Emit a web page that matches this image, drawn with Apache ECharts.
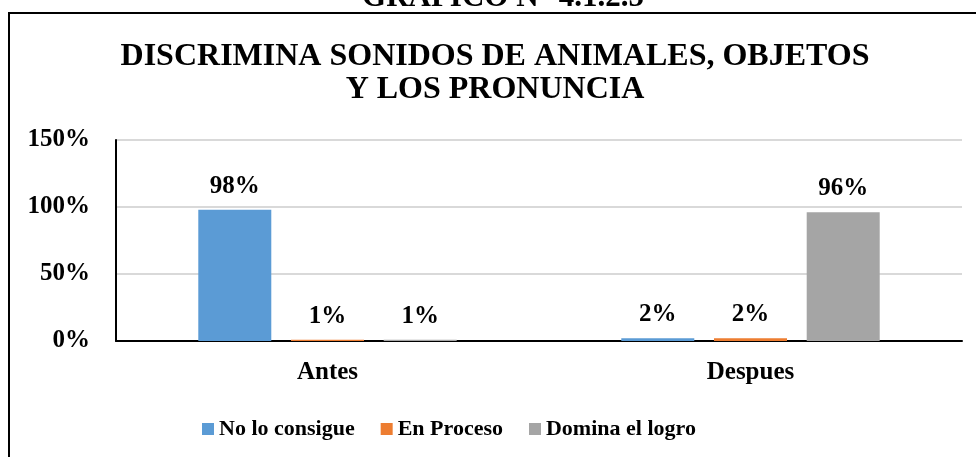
<!DOCTYPE html>
<html>
<head>
<meta charset="UTF-8">
<script src="https://cdn.jsdelivr.net/npm/echarts@6/dist/echarts.min.js"></script>
<style>
html, body { margin: 0; padding: 0; background: #fff; }
#main { width: 976px; height: 457px; }
</style>
</head>
<body>
<div id="main"></div>
<script>
var categories = ['Antes', 'Despues'];
var seriesNames = ['No lo consigue', 'En Proceso', 'Domina el logro'];
var noLoConsigue = [98, 2];
var enProceso = [1, 2];
var dominaLogro = [1, 96];
var yTicks = [0, 50, 100, 150];

var serif = '"Liberation Serif", "Times New Roman", serif';
var colors = ['#5B9BD5', '#ED7D31', '#A5A5A5'];

var myChart = echarts.init(document.getElementById('main'));

function barSeries(name, data, color) {
    return {
        name: name,
        type: 'bar',
        data: data,
        barWidth: 73,
        barGap: '27%',
        itemStyle: { color: color },
        label: {
            show: true,
            position: 'top',
            distance: 11,
            formatter: '{c}%',
            color: '#000',
            fontFamily: serif,
            fontWeight: 'bold',
            fontSize: 25
        }
    };
}

var option = {
    animation: false,
    color: colors,
    graphic: [
        {
            // page caption, cut off by the top edge
            type: 'text',
            style: {
                x: 503, y: 13,
                text: 'GRAFICO N° 4.1.2.5',
                font: 'bold 31px ' + serif,
                fill: '#000',
                align: 'center',
                verticalAlign: 'bottom'
            }
        },
        {
            type: 'text',
            style: {
                x: 495, y: 40,
                text: 'DISCRIMINA SONIDOS DE ANIMALES, OBJETOS\nY LOS PRONUNCIA',
                font: 'bold 32px ' + serif,
                lineHeight: 33,
                fill: '#000',
                align: 'center',
                verticalAlign: 'top'
            }
        },
        {
            type: 'rect',
            shape: { x: 9, y: 13, width: 1100, height: 600 },
            style: { fill: 'none', stroke: '#000', lineWidth: 2 }
        }
    ],
    legend: {
        data: seriesNames,
        left: 197,
        top: 413,
        icon: 'rect',
        itemWidth: 12,
        itemHeight: 12,
        itemGap: 26,
        textStyle: {
            fontFamily: serif,
            fontWeight: 'bold',
            fontSize: 22,
            color: '#000'
        }
    },
    grid: {
        left: 116,
        right: 14,
        top: 140,
        bottom: 116,
        containLabel: false
    },
    xAxis: {
        type: 'category',
        data: categories,
        axisLine: { lineStyle: { color: '#000', width: 2 } },
        axisTick: { show: false },
        axisLabel: {
            margin: 19,
            color: '#000',
            fontFamily: serif,
            fontWeight: 'bold',
            fontSize: 25
        }
    },
    yAxis: {
        type: 'value',
        min: yTicks[0],
        max: yTicks[yTicks.length - 1],
        interval: 50,
        axisLine: { show: true, lineStyle: { color: '#000', width: 2 } },
        axisTick: { show: false },
        splitLine: { lineStyle: { color: '#d9d9d9', width: 2 } },
        axisLabel: {
            margin: 26,
            formatter: '{value}%',
            color: '#000',
            fontFamily: serif,
            fontWeight: 'bold',
            fontSize: 25
        }
    },
    series: [
        barSeries(seriesNames[0], noLoConsigue, colors[0]),
        barSeries(seriesNames[1], enProceso, colors[1]),
        barSeries(seriesNames[2], dominaLogro, colors[2])
    ]
};

myChart.setOption(option);
</script>
</body>
</html>
